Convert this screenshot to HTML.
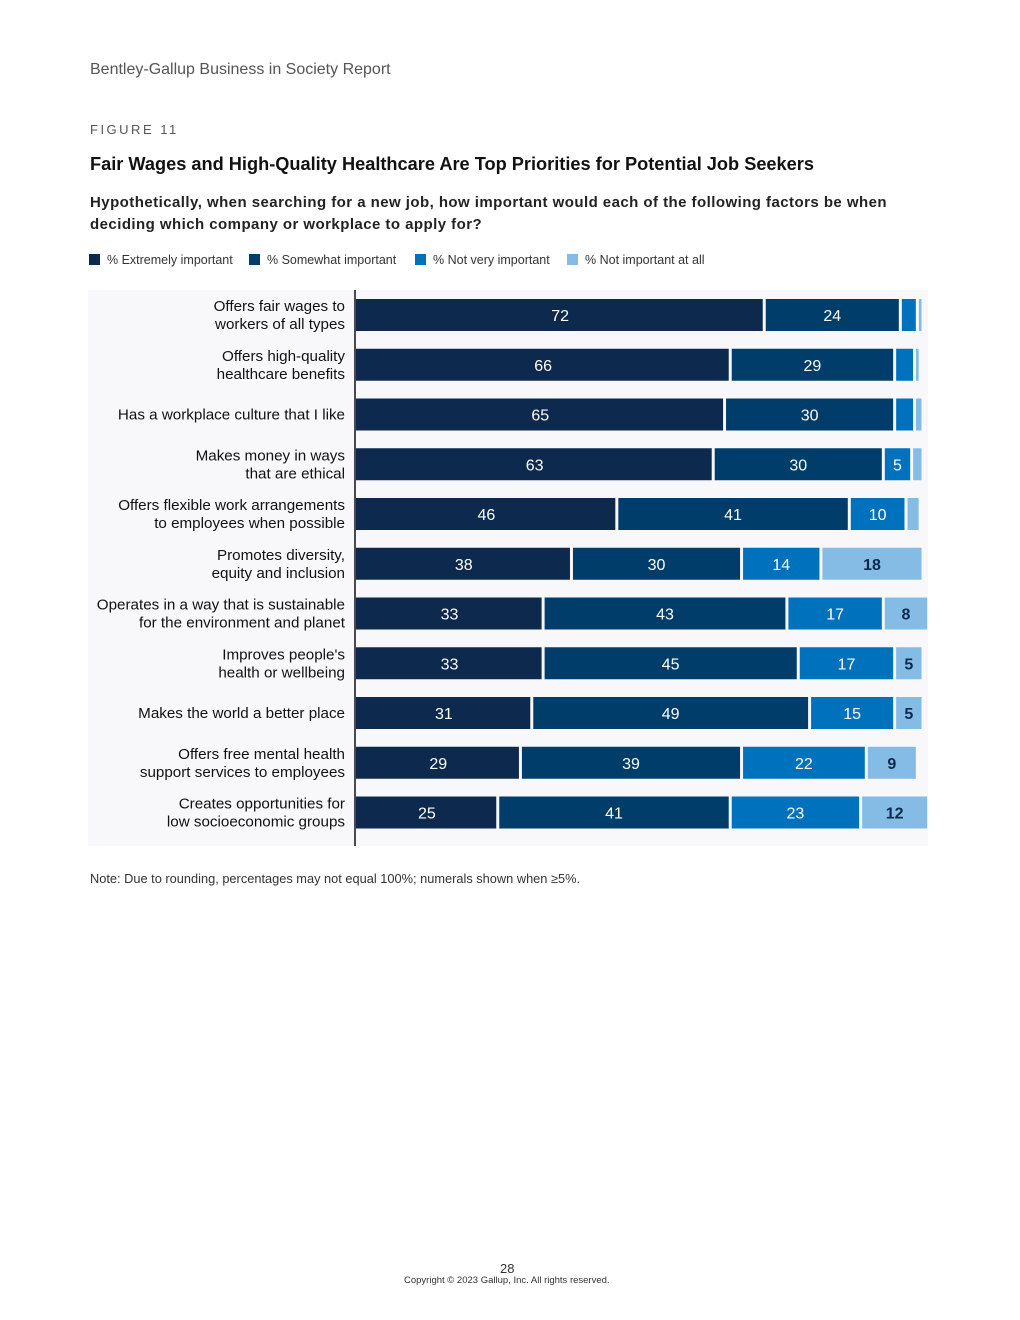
<!DOCTYPE html>
<html><head><meta charset="utf-8"><style>
body{margin:0;background:#fff;font-family:"Liberation Sans",Arial,sans-serif;}
#page{position:relative;width:1020px;height:1320px;overflow:hidden;}
.t{position:absolute;white-space:nowrap;}
</style></head><body>
<div id="page">
<div class="t" style="left:90px;top:61px;font-size:16px;color:#555;">Bentley-Gallup Business in Society Report</div>
<div class="t" style="left:90px;top:122px;font-size:13px;color:#555;letter-spacing:2.5px;">FIGURE 11</div>
<div class="t" style="left:90px;top:154px;font-size:18.2px;font-weight:bold;color:#111;">Fair Wages and High-Quality Healthcare Are Top Priorities for Potential Job Seekers</div>
<div class="t" style="left:90px;top:192px;font-size:15px;font-weight:bold;color:#222;line-height:22px;letter-spacing:0.45px;">Hypothetically, when searching for a new job, how important would each of the following factors be when<br>deciding which company or workplace to apply for?</div>
<svg id="chart" width="1020" height="860" style="position:absolute;left:0;top:240px"></svg>
<div class="t" style="left:90px;top:871px;font-size:12.8px;color:#333;">Note: Due to rounding, percentages may not equal 100%; numerals shown when ≥5%.</div>
<div class="t" style="left:500px;top:1261px;font-size:13px;color:#333;">28</div>
<div class="t" style="left:404px;top:1275px;font-size:9.5px;color:#333;">Copyright © 2023 Gallup, Inc. All rights reserved.</div>
</div>
<script>
const categories=[["Offers fair wages to","workers of all types"],["Offers high-quality","healthcare benefits"],["Has a workplace culture that I like"],["Makes money in ways","that are ethical"],["Offers flexible work arrangements","to employees when possible"],["Promotes diversity,","equity and inclusion"],["Operates in a way that is sustainable","for the environment and planet"],["Improves people's","health or wellbeing"],["Makes the world a better place"],["Offers free mental health","support services to employees"],["Creates opportunities for","low socioeconomic groups"]];
const extremely=[72,66,65,63,46,38,33,33,31,29,25];
const somewhat=[24,29,30,30,41,30,43,45,49,39,41];
const notVery=[3,3.5,3.5,5,10,14,17,17,15,22,23];
const notAtAll=[1,1,1.5,2,2.5,18,8,5,5,9,12];
const seriesNames=["% Extremely important","% Somewhat important","% Not very important","% Not important at all"];
const colors=["#0d2a4e","#003d6b","#0071bc","#85bce6"];
const NS="http://www.w3.org/2000/svg";
const svg=document.getElementById('chart');
const x0=356, pxPer=5.67, rowTop=59, rowH=49.75, barH=32;
const xs=v=>v*pxPer;
const yc=i=>rowTop+rowH*i+16;
function mk(tag,attrs,parent){const e=document.createElementNS(NS,tag);for(const k in attrs)e.setAttribute(k,attrs[k]);(parent||svg).appendChild(e);return e;}
let lx=89;
const legW=[160,166,152,150];
seriesNames.forEach((n,s)=>{
  const g=mk('g',{});
  
  
  mk('rect',{x:lx,y:14,width:11,height:11,fill:colors[s]},g);
  const t=mk('text',{x:lx+18,y:24,'font-size':12.5,fill:'#333'},g);t.textContent=n;
  lx+=legW[s];
});
const bg=mk('rect',{x:88,y:50,width:840,height:556,fill:'#f8f8fa'});


const series=[extremely,somewhat,notVery,notAtAll];
categories.forEach((c,i)=>{
  const lab=mk('text',{x:345,'text-anchor':'end','font-size':15.2,fill:'#111'});
  
  
  const cy=yc(i);
  c.forEach((line,k)=>{const ts=mk('tspan',{x:345,y:cy+5+(k-(c.length-1)/2)*18},lab);ts.textContent=line;});
  let acc=0;
  series.forEach((arr,s)=>{
    const v=arr[i];
    const x=x0+xs(acc);
    const r=mk('rect',{x:x+(s?1.5:0),y:cy-barH/2,width:Math.max(xs(v)-(s?1.5:0)-1.5,1),height:barH,fill:colors[s]});
    
    
    if(v>=5){const t=mk('text',{x:x+xs(v)/2,y:cy+6,'text-anchor':'middle','font-size':16,fill:s==3?'#0d2a4e':'#fff','font-weight':s==3?'bold':'normal'});t.textContent=Math.round(v);
      
      }
    acc+=v;
  });
});
const ax=mk('line',{x1:355,x2:355,y1:50,y2:606,stroke:'#111','stroke-width':1.5});


</script>
</body></html>
